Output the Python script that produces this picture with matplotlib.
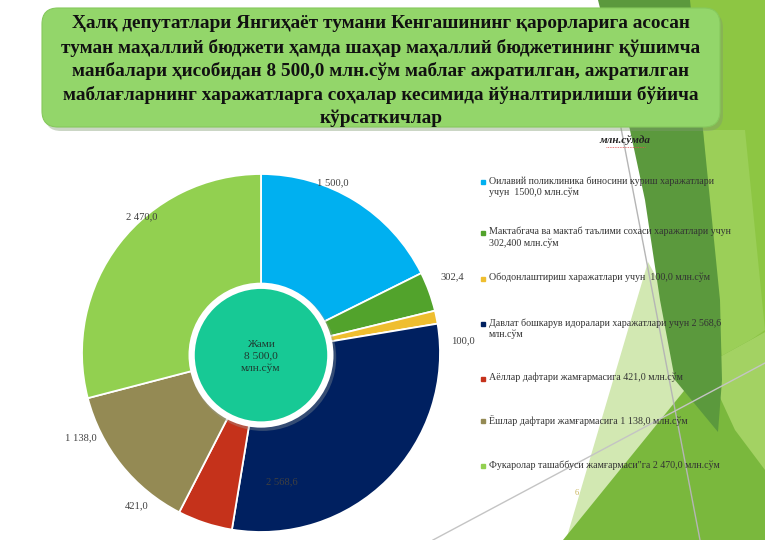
import matplotlib
matplotlib.use("Agg")
import matplotlib.pyplot as plt
from matplotlib.patches import FancyBboxPatch, Polygon, Circle
import numpy as np

# ---------------- data ----------------
values = [1500.0, 302.4, 100.0, 2568.6, 421.0, 1138.0, 2470.0]
value_labels = ["1 500,0", "302,4", "100,0", "2 568,6", "421,0", "1 138,0", "2 470,0"]
legend_labels = [
    "Оилавий поликлиника биносини куриш харажатлари\nучун  1500,0 млн.сўм",
    "Мактабгача ва мактаб таълими сохаси харажатлари учун\n302,400 млн.сўм",
    "Ободонлаштириш харажатлари учун  100,0 млн.сўм",
    "Давлат бошкарув идоралари харажатлари учун 2 568,6\nмлн.сўм",
    "Аёллар дафтари жамғармасига 421,0 млн.сўм",
    "Ёшлар дафтари жамғармасига 1 138,0 млн.сўм",
    "Фукаролар ташаббуси жамғармаси\"га 2 470,0 млн.сўм",
]
colors = ["#00b0f0", "#52a32c", "#efbe2f", "#002060", "#c5321b", "#948a54", "#92d050"]
title_lines = [
    "Ҳалқ депутатлари Янгиҳаёт тумани Кенгашининг қарорларига асосан",
    "туман маҳаллий бюджети ҳамда шаҳар маҳаллий бюджетининг қўшимча",
    "манбалари ҳисобидан 8 500,0 млн.сўм маблағ ажратилган, ажратилган",
    "маблағларнинг харажатларга соҳалар кесимида йўналтирилиши бўйича",
    "кўрсаткичлар",
]
center_text = "Жами\n8 500,0\nмлн.сўм"
unit_text = "млн.сўмда"

# ---------------- layout ----------------
W, H = 765, 540
SERIF = ["Liberation Serif", "DejaVu Serif"]
fig = plt.figure(figsize=(W / 100, H / 100), dpi=100)
fig.patch.set_facecolor("white")

bg = fig.add_axes([0, 0, 1, 1])
bg.set_xlim(0, W)
bg.set_ylim(H, 0)
bg.axis("off")

# decorative background shapes (slide theme)
bg.add_patch(Polygon([(688, 0), (765, 0), (765, 540), (690, 540)], closed=True,
                     fc="#8dc643", ec="none", zorder=1))
bg.add_patch(Polygon([(703, 130), (745, 130), (765, 330), (722, 360)], closed=True,
                     fc="#9bcf58", ec="none", zorder=1))
bg.add_patch(Polygon([(648, 262), (705, 365), (566, 540)], closed=True,
                     fc="#d2e8b2", ec="none", zorder=1))
bg.add_patch(Polygon([(563, 540), (765, 540), (765, 332), (705, 365)], closed=True,
                     fc="#7ab83d", ec="none", zorder=1))
bg.add_patch(Polygon([(705, 365), (765, 332), (765, 470), (735, 430)], closed=True,
                     fc="#a3d263", ec="none", zorder=1))
bg.add_patch(Polygon([(598, 0), (690, 0), (703, 130), (720, 300), (722, 380), (718, 432),
                      (675, 380), (660, 300), (645, 200), (630, 130)],
                     closed=True, fc="#5b993d", ec="none", zorder=2))
bg.plot([621, 700], [128, 540], color="#b5b5b5", lw=1.0, zorder=3)
bg.plot([433, 765], [540, 363], color="#c4c4c4", lw=1.0, zorder=3)

# title box with shadow
bg.add_patch(FancyBboxPatch((45, 12), 678, 119, boxstyle="round,pad=0,rounding_size=16",
                            fc="#7f9a70", ec="none", alpha=0.4, zorder=4))
bg.add_patch(FancyBboxPatch((42, 8), 678, 119, boxstyle="round,pad=0,rounding_size=16",
                            fc="#93d66a", ec="#86c95d", lw=0.8, zorder=5))
for i, line in enumerate(title_lines):
    bg.text(381, 24 + i * 23.6, line, ha="center", va="center", fontsize=13.9,
            fontweight="bold", family=SERIF, color="#111111", zorder=6)

bg.text(625, 140, unit_text, ha="center", va="center", fontsize=8, fontweight="bold",
        style="italic", family=SERIF, color="#222222", zorder=6)
bg.plot([606, 645], [146.5, 146.5], color="#e05050", lw=0.6, ls=(0, (1, 1)), zorder=6)

# legend
legend_y = [182, 233, 279, 324, 379, 421, 466]
for lab, col, y in zip(legend_labels, colors, legend_y):
    bg.plot([483], [y], marker="s", ms=3.2, color=col, zorder=6, ls="none")
    bg.text(489, y - 6, lab, ha="left", va="top", fontsize=7.2, family=SERIF,
            color="#333333", linespacing=1.3, zorder=6)

bg.text(577, 493, "6", ha="center", va="center", fontsize=6, family=SERIF,
        color="#c8b45a", zorder=6)

# pie axes: centre (261, 353) px, radius 179 px
cx, cy, R = 261, 353, 179
half = 200
ax = fig.add_axes([(cx - half) / W, (H - cy - half) / H, 2 * half / W, 2 * half / H])
lim = half / R
ax.axis("off")
ax.patch.set_alpha(0)

wedges, _ = ax.pie(values, colors=colors, startangle=90, counterclock=False, radius=1,
                   wedgeprops=dict(edgecolor="white", linewidth=1.3))
ax.set_xlim(-lim, lim)
ax.set_ylim(-lim, lim)

# label placement (angle offset from the wedge middle in degrees, radial distance)
label_dang = [9, 1.6, -8, -36, -21, -13.5, -11]
label_r = [1.03, 1.15, 1.13, 0.73, 1.10, 1.11, 1.01]
for w, txt, da, r in zip(wedges, value_labels, label_dang, label_r):
    mid = np.deg2rad((w.theta1 + w.theta2) / 2 + da)
    ax.text(r * np.cos(mid), r * np.sin(mid), txt, ha="center", va="center",
            fontsize=7.6, family=SERIF, color="#404040")

# centre circle
ax.add_patch(Circle((0.01, -0.025), 0.41, fc="#9aa09a", ec="none", alpha=0.35, zorder=5))
ax.add_patch(Circle((0, -0.012), 0.405, fc="white", ec="none", zorder=6))
ax.add_patch(Circle((0, -0.012), 0.37, fc="#17c995", ec="none", zorder=7))
ax.text(0, -0.02, center_text, ha="center", va="center", fontsize=8.2, family=SERIF,
        color="#1e3a30", linespacing=1.35, zorder=8)

fig.savefig("out.png", dpi=100)
